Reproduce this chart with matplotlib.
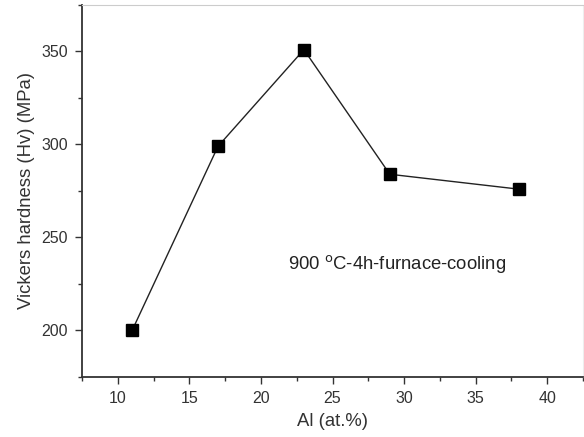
import matplotlib
matplotlib.use("Agg")
import matplotlib.pyplot as plt
from matplotlib.ticker import MultipleLocator

plt.rcParams['font.family'] = ['Liberation Sans', 'DejaVu Sans']

al = [11, 17, 23, 29, 38]
hv = [200, 299, 351, 284, 276]

fig = plt.figure(figsize=(5.84, 4.37), dpi=100)
ax = fig.add_axes([0.1404, 0.1373, 0.858, 0.8513])

ax.plot(al, hv, '-', color='#222222', lw=1.0)
ax.plot(al, hv, 's', color='black', ms=9, mec='black')

ax.set_xlim(7.5, 42.5)
ax.set_ylim(175, 375)
ax.xaxis.set_major_locator(MultipleLocator(5))
ax.xaxis.set_minor_locator(MultipleLocator(2.5))
ax.yaxis.set_major_locator(MultipleLocator(50))
ax.yaxis.set_minor_locator(MultipleLocator(25))
ax.tick_params(which='major', direction='out', length=5, width=1, colors='#333333',
               labelsize=11.5, labelcolor='#333333', pad=5)
ax.tick_params(which='minor', direction='out', length=3, width=1, colors='#333333')

for s in ['left', 'bottom']:
    ax.spines[s].set_color('#333333')
    ax.spines[s].set_linewidth(1.3)
ax.spines['top'].set_color('#cccccc')
ax.spines['right'].set_color('#eeeeee')

ax.set_xlabel('Al (at.%)', fontsize=13.3, color='#333333', labelpad=5)
ax.set_ylabel('Vickers hardness (Hv) (MPa)', fontsize=13.3, color='#333333', labelpad=5)

ax.text(21.9, 236, '900 $^{\\rm o}$C-4h-furnace-cooling', fontsize=13.3,
        color='#222222', va='center', ha='left')

fig.savefig('out.png', dpi=100)
